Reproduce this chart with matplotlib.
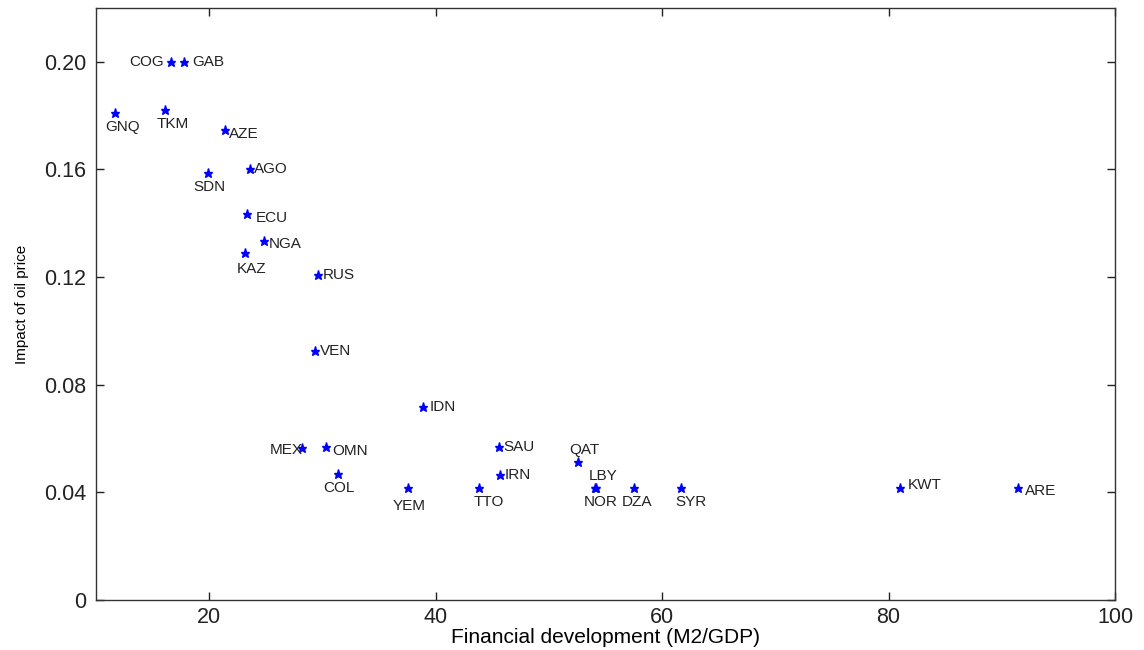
import matplotlib
matplotlib.use("Agg")
import matplotlib.pyplot as plt
import numpy as np

plt.rcParams['font.family'] = ['Liberation Sans', 'DejaVu Sans']

# Data
countries = ["GNQ", "COG", "GAB", "TKM", "AZE", "SDN", "AGO", "ECU", "NGA", "KAZ",
             "RUS", "VEN", "IDN", "MEX", "OMN", "COL", "YEM", "TTO", "SAU", "IRN",
             "QAT", "LBY", "NOR", "DZA", "SYR", "KWT", "ARE"]
fin_dev = [11.7, 16.6, 17.8, 16.1, 21.4, 19.9, 23.6, 23.3, 24.8, 23.2,
           29.6, 29.3, 38.9, 28.2, 30.35, 31.4, 37.6, 43.8, 45.6, 45.7,
           52.6, 54.1, 54.2, 57.5, 61.7, 81.0, 91.4]
oil_impact = [0.181, 0.200, 0.200, 0.182, 0.1747, 0.1587, 0.160, 0.1435, 0.1335, 0.129,
              0.1208, 0.0926, 0.0717, 0.0565, 0.0569, 0.0468, 0.0416, 0.0416, 0.0569, 0.0465,
              0.0513, 0.0416, 0.0416, 0.0416, 0.0416, 0.0416, 0.0416]
xticks = [20, 40, 60, 80, 100]
yticks = [0, 0.04, 0.08, 0.12, 0.16, 0.20]
ytick_labels = ["0", "0.04", "0.08", "0.12", "0.16", "0.20"]

# label placement: (dx, dy) in pixels, horizontal alignment, vertical alignment
R = lambda dx=6, dy=-3: (dx, dy, 'left', 'center')
B = lambda dx=0, dy=-7: (dx, dy, 'center', 'top')
place = {
    "GNQ": B(7), "COG": (-7, 0, 'right', 'center'), "GAB": R(8, 0), "TKM": B(8),
    "AZE": R(4, -4), "SDN": B(1), "AGO": R(4, 0), "ECU": R(9, -4), "NGA": R(5, -3),
    "KAZ": B(6, -9), "RUS": R(5, 0), "VEN": R(5, 0), "IDN": R(6, 0),
    "MEX": (1, -2, 'right', 'center'), "OMN": R(6, -4), "COL": B(1), "YEM": B(1, -11),
    "TTO": B(10), "SAU": R(4, 0), "IRN": R(4, 0), "QAT": (6, 5, 'center', 'bottom'),
    "LBY": (8, 5, 'center', 'bottom'), "NOR": B(4), "DZA": B(3), "SYR": B(10),
    "KWT": R(8, 3), "ARE": R(7, -3),
}

fig = plt.figure(figsize=(11.44, 6.5), dpi=100)
ax = fig.add_axes([96 / 1144, 50 / 650, 1019 / 1144, 592 / 650])

ax.plot(fin_dev, oil_impact, linestyle='none', marker='*', color='blue',
        markersize=6.5)

for name, x, y in zip(countries, fin_dev, oil_impact):
    dx, dy, ha, va = place[name]
    ax.annotate(name, (x, y), xytext=(dx, dy), textcoords='offset pixels',
                ha=ha, va=va, fontsize=11, color='#222222')

ax.set_xlim(10, 100)
ax.set_ylim(0, 0.22)
ax.set_xticks(xticks)
ax.set_yticks(yticks)
ax.set_yticklabels(ytick_labels)
ax.tick_params(direction='in', top=True, right=True, length=6, width=1,
               labelsize=15.5, colors='#222222')
ax.tick_params(axis='y', pad=7)
ax.tick_params(axis='x', pad=5)
for s in ax.spines.values():
    s.set_linewidth(1.0)
    s.set_color('#333333')

ax.set_xlabel("Financial development (M2/GDP)", fontsize=15, labelpad=0)
ax.set_ylabel("Impact of oil price", fontsize=11)
ax.yaxis.set_label_coords(-0.066, 0.5)

fig.savefig("out.png", dpi=100)
